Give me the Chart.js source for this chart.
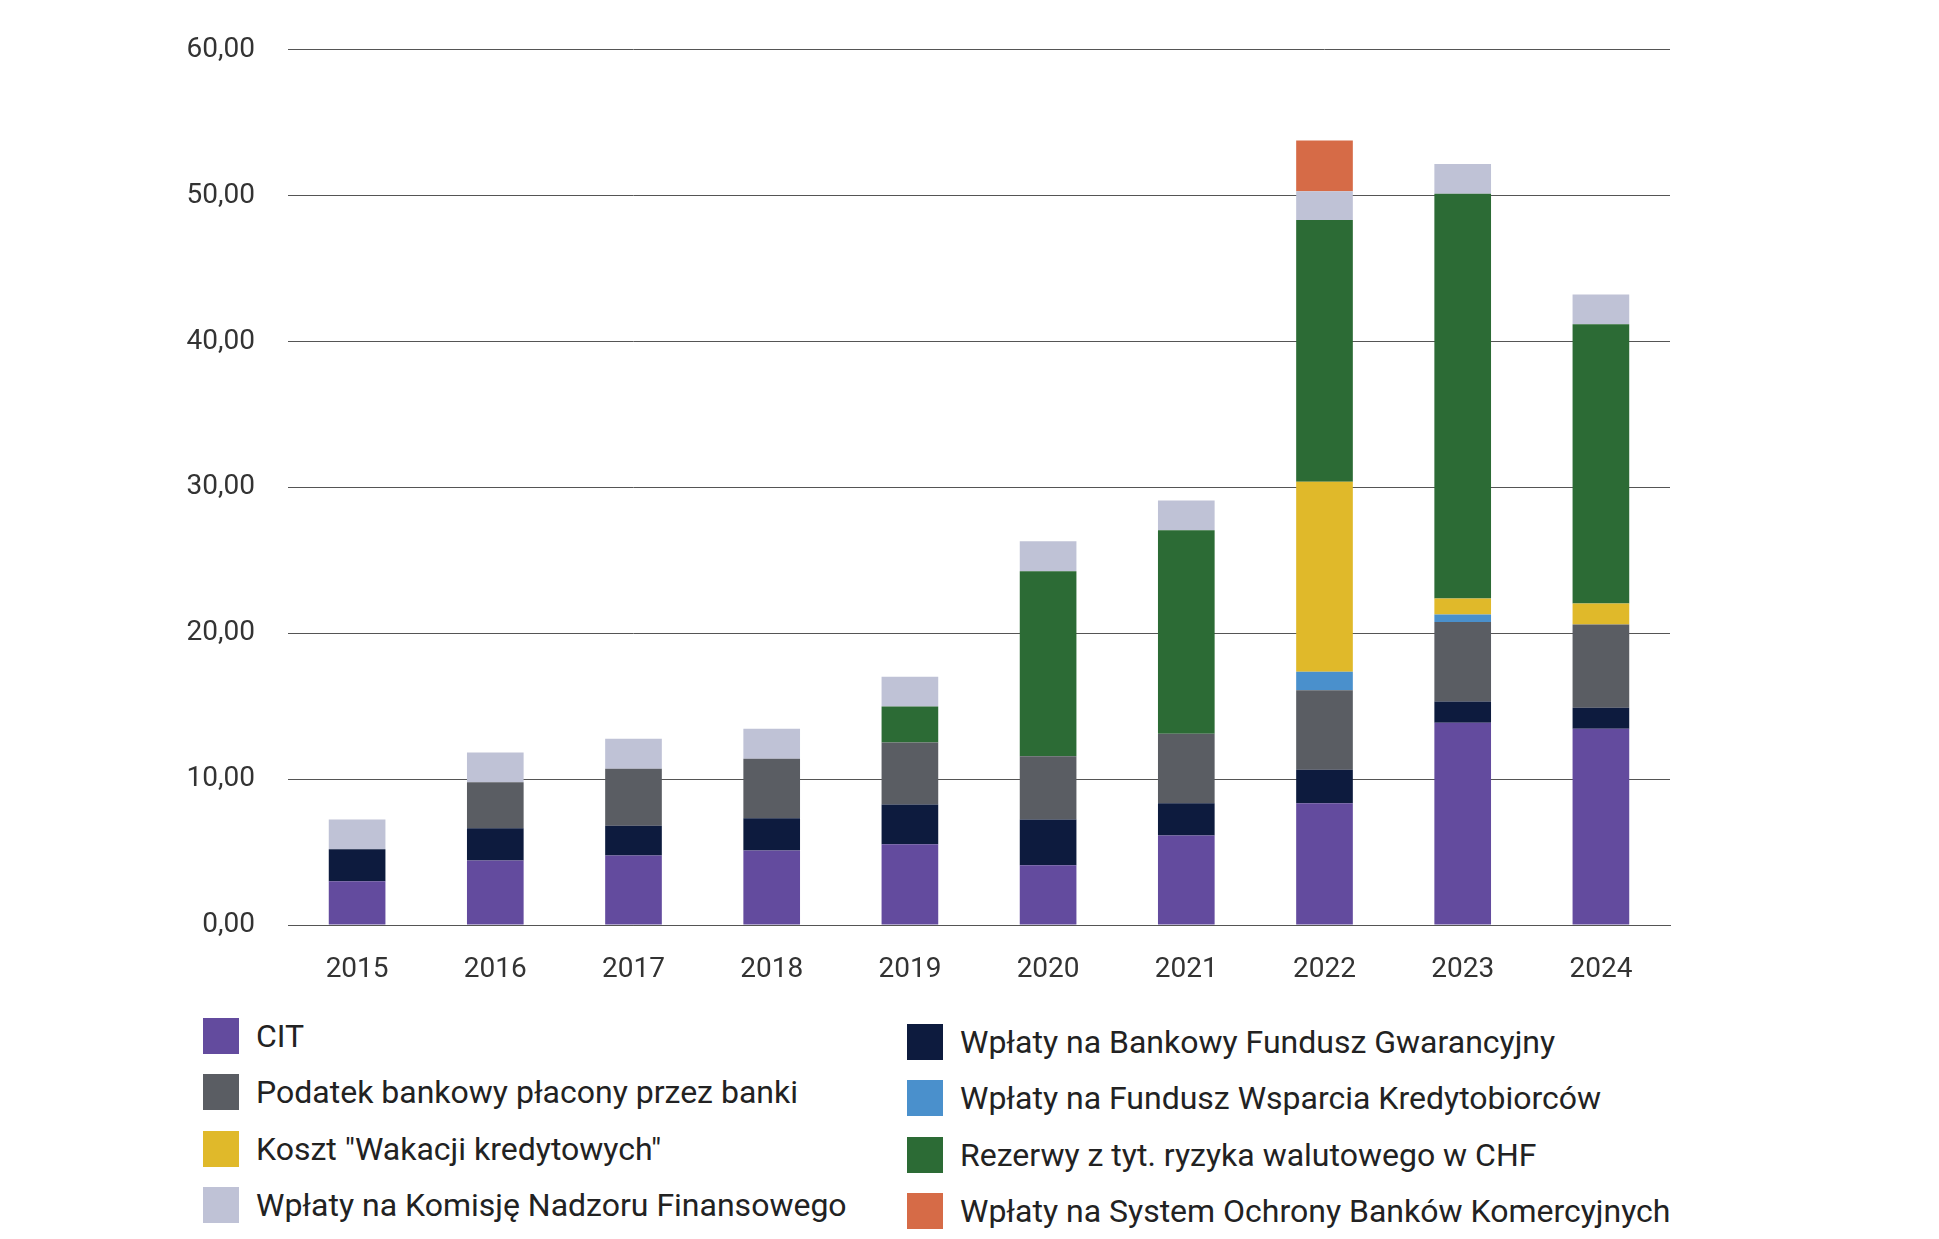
<!DOCTYPE html>
<html><head><meta charset="utf-8">
<script src="https://cdn.jsdelivr.net/npm/chart.js@4/dist/chart.umd.min.js"></script>
<style>
body{margin:0;background:#fff;width:1939px;height:1239px;position:relative;overflow:hidden;font-family:Roboto,sans-serif;}
#wrap{position:absolute;left:0;top:0;width:1700px;height:995px;}
.lg{position:absolute;display:flex;align-items:center;font-size:32px;color:#222;white-space:nowrap;}
.lg span.b{display:inline-block;width:36px;height:36px;margin-right:17px;}
</style></head><body>
<div id="wrap"><canvas id="c"></canvas></div>
<div id="legend"></div>
<script>
const years=['2015','2016','2017','2018','2019','2020','2021','2022','2023','2024'];
const cit=[3.0,4.43,4.77,5.11,5.53,4.09,6.13,8.34,13.87,13.45];
const bfg=[2.2,2.21,2.04,2.21,2.73,3.14,2.21,2.3,1.45,1.44];
const podatek=[0,3.15,3.91,4.08,4.25,4.34,4.77,5.45,5.45,5.71];
const fwk=[0,0,0,0,0,0,0,1.27,0.51,0];
const wakacje=[0,0,0,0,0,0,0,13.02,1.1,1.44];
const chf=[0,0,0,0,2.47,12.69,13.95,17.96,27.75,19.15];
const knf=[2.04,2.04,2.05,2.05,2.04,2.04,2.05,1.96,2.04,2.04];
const sobk=[0,0,0,0,0,0,0,3.49,0,0];
const yTicks=[0,10,20,30,40,50,60];
const series=[
 ['CIT',cit,'#634b9e'],
 ['Wpłaty na Bankowy Fundusz Gwarancyjny',bfg,'#0d1b3e'],
 ['Podatek bankowy płacony przez banki',podatek,'#5a5d63'],
 ['Wpłaty na Fundusz Wsparcia Kredytobiorców',fwk,'#4a90cc'],
 ['Koszt "Wakacji kredytowych"',wakacje,'#e0b92a'],
 ['Rezerwy z tyt. ryzyka walutowego w CHF',chf,'#2c6b35'],
 ['Wpłaty na Komisję Nadzoru Finansowego',knf,'#bfc2d6'],
 ['Wpłaty na System Ochrony Banków Komercyjnych',sobk,'#d66b47']
];
new Chart(document.getElementById('c'),{type:'bar',
 data:{labels:years,datasets:series.map(s=>({label:s[0],data:s[1],backgroundColor:s[2],barPercentage:0.41,categoryPercentage:1}))},
 options:{responsive:true,maintainAspectRatio:false,animation:false,
  layout:{padding:{top:30,right:30,left:0,bottom:0}},
  plugins:{legend:{display:false},tooltip:{enabled:false}},
  scales:{
   x:{stacked:true,grid:{display:false},border:{color:'#555'},
      ticks:{color:'#333',font:{family:'Roboto',size:28},padding:20},
      afterFit(a){a.height=70;}},
   y:{stacked:true,min:0,max:60,border:{display:false},
      grid:{color:'#555',lineWidth:1,drawTicks:false},
      afterBuildTicks(a){a.ticks=yTicks.map(v=>({value:v}));},
      ticks:{color:'#333',font:{family:'Roboto',size:28},padding:33,callback:v=>v.toFixed(2).replace('.',',')},
      afterFit(a){a.width=288;}}
  }}});
const L=document.getElementById('legend');
const pos=[[0,203,1037],[2,203,1093],[4,203,1150],[6,203,1206],[1,907,1043],[3,907,1099],[5,907,1156],[7,907,1212]];
pos.forEach(([i,x,y])=>{const d=document.createElement('div');d.className='lg';d.style.left=x+'px';d.style.top=(y-20)+'px';
 d.innerHTML='<span class="b" style="background:'+series[i][2]+'"></span>'+series[i][0].replace(/</g,'&lt;');L.appendChild(d);});
</script></body></html>
